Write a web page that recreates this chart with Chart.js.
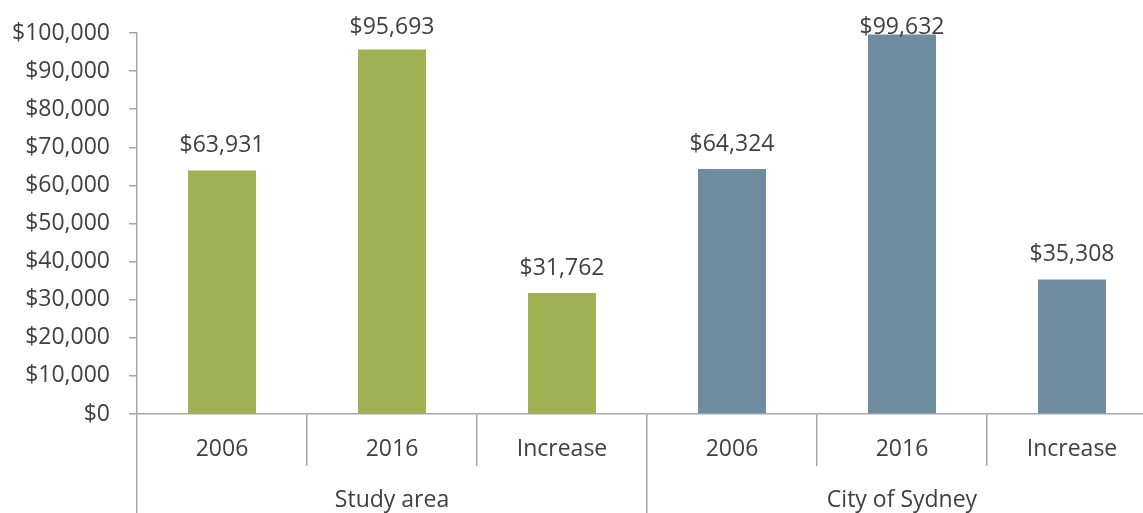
<!DOCTYPE html>
<html>
<head>
<meta charset="utf-8">
<script src="https://cdn.jsdelivr.net/npm/chart.js@4.4.0/dist/chart.umd.min.js"></script>
<style>
  html, body { margin: 0; padding: 0; background: #fff; overflow: hidden; }
  /* the plot runs a little past the right edge, as in the original */
  #wrap { width: 1157px; height: 513px; }
</style>
</head>
<body>
<div id="wrap"><canvas id="chart"></canvas></div>
<script>
/* chart data */
const categories = ["2006", "2016", "Increase", "2006", "2016", "Increase"]
const groups = ["Study area", "City of Sydney"]
const groupOf = [0, 0, 0, 1, 1, 1]
const values = [63931, 95693, 31762, 64324, 99632, 35308]
const yTicks = [0, 10000, 20000, 30000, 40000, 50000, 60000, 70000, 80000, 90000, 100000]

const groupColors = ["#9FB153", "#708CA0"]
const textColor = "#404040"
const lineColor = "#A6A6A6"
const fontFamily = "'Open Sans', sans-serif"

const money = v => "$" + v.toLocaleString("en-US")

/* value labels above bars */
const valueLabels = {
    id: "valueLabels",
    afterDatasetsDraw(chart) {
        const ctx = chart.ctx
        const meta = chart.getDatasetMeta(0)
        ctx.save()
        ctx.font = "23px " + fontFamily
        ctx.fillStyle = textColor
        ctx.textAlign = "center"
        ctx.textBaseline = "alphabetic"
        meta.data.forEach((bar, i) => {
            const y = Math.max(bar.y - 18, chart.chartArea.top + 1)
            ctx.fillText(money(values[i]), bar.x, y)
        })
        ctx.restore()
    }
}

new Chart(document.querySelector("#chart"), {
    type: "bar",
    data: {
        labels: categories,
        datasets: [{
            data: values,
            backgroundColor: groupOf.map(g => groupColors[g]),
            barPercentage: 0.4,
            categoryPercentage: 1
        }]
    },
    options: {
        responsive: true,
        maintainAspectRatio: false,
        animation: false,
        layout: { padding: { top: 33, right: 0, bottom: 0, left: 0 } },
        plugins: { legend: { display: false }, tooltip: { enabled: false } },
        scales: {
            y: {
                min: 0,
                max: 100000,
                afterBuildTicks: scale => { scale.ticks = yTicks.map(v => ({ value: v })) },
                afterFit: scale => { scale.width = 137 },
                border: { color: lineColor, width: 1.5 },
                grid: { drawOnChartArea: false, tickLength: 8, color: lineColor, lineWidth: 1.5 },
                ticks: {
                    padding: 19,
                    color: textColor,
                    font: { family: fontFamily, size: 23 },
                    callback: v => money(v)
                }
            },
            x: {
                position: "bottom",
                afterFit: scale => { scale.height = 52 },
                border: { color: lineColor, width: 1.5 },
                grid: { offset: true, drawOnChartArea: false, tickLength: 52, color: lineColor, lineWidth: 1.5 },
                ticks: {
                    padding: -30,
                    color: textColor,
                    font: { family: fontFamily, size: 23 }
                }
            },
            x2: {
                type: "category",
                position: "bottom",
                labels: groups,
                afterFit: scale => { scale.height = 47 },
                border: { display: false },
                grid: { offset: true, drawOnChartArea: false, tickLength: 47, color: lineColor, lineWidth: 1.5 },
                ticks: {
                    padding: -26,
                    color: textColor,
                    font: { family: fontFamily, size: 23 }
                }
            }
        }
    },
    plugins: [valueLabels]
})
</script>
</body>
</html>
